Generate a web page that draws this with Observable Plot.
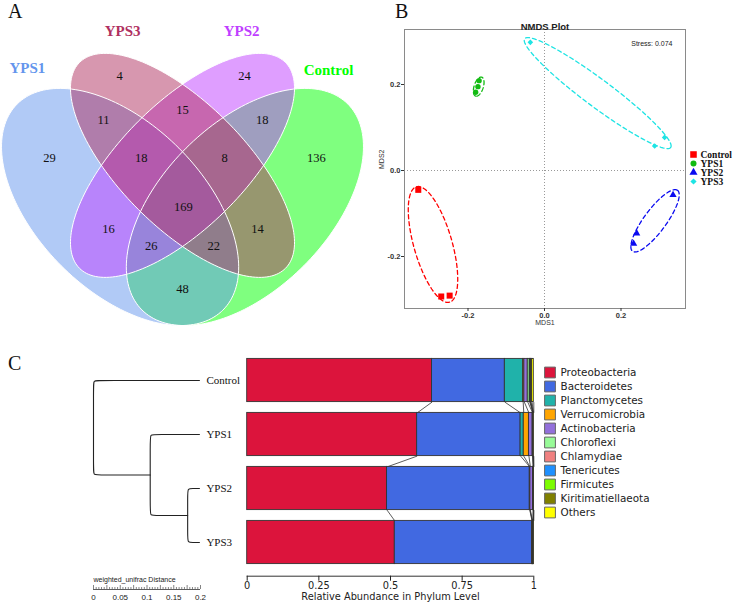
<!DOCTYPE html>
<html><head><meta charset="utf-8">
<script src="https://cdn.jsdelivr.net/npm/d3@7"></script>
<script src="https://cdn.jsdelivr.net/npm/@observablehq/plot@0.6"></script>
<style>
body{margin:0;background:#fff;width:733px;height:605px;position:relative;overflow:hidden;}
.letter{position:absolute;font-family:"Liberation Serif","Times New Roman",serif;font-size:20px;line-height:20px;color:#111;}
svg{overflow:visible;}
</style></head><body>
<div class="letter" style="left:8px;top:1px">A</div>
<div class="letter" style="left:395px;top:1px">B</div>
<div class="letter" style="left:8px;top:353px">C</div>
<script>
// ================= DATA =================
// ---- Panel A: Venn ----
const vennSets   = ["Control", "YPS1", "YPS2", "YPS3"];          // draw order
const vennColors = ["#00FF00", "#6495ED", "#BF3EFF", "#B03060"];
const vennCx  = [0.65, 0.35, 0.50, 0.50];
const vennCy  = [0.47, 0.47, 0.57, 0.57];
const vennA   = [0.35, 0.35, 0.35, 0.35];
const vennB   = [0.20, 0.20, 0.15, 0.15];
const vennRot = [45, -45, 45, -45];
const vennCounts = [4, 24, 11, 15, 18, 29, 18, 8, 136, 169, 16, 14, 26, 22, 48];
const vennCountU = [0.349, 0.649, 0.310, 0.500, 0.692, 0.180, 0.401, 0.601, 0.822, 0.502, 0.322, 0.680, 0.425, 0.575, 0.500];
const vennCountV = [0.784, 0.784, 0.680, 0.702, 0.680, 0.587, 0.587, 0.587, 0.587, 0.471, 0.418, 0.418, 0.377, 0.377, 0.274];
const vennLabels = ["YPS1", "YPS3", "YPS2", "Control"];
const vennLabelU = [0.127, 0.356, 0.642, 0.851];
const vennLabelV = [0.803, 0.892, 0.892, 0.800];

// ---- Panel B: NMDS ----
const nmdsGroups = ["Control", "YPS1", "YPS2", "YPS3"];
const nmdsColors = ["#FF0000", "#11BB11", "#0A0AF0", "#1EE4E4"];
const nmdsSymbols = ["square", "circle", "triangle", "diamond2"];
const nmdsSizes = [3.4, 2.7, 2.7, 2.5];
const nmdsGroup = ["Control","Control","Control","YPS1","YPS1","YPS1","YPS2","YPS2","YPS2","YPS3","YPS3","YPS3"];
const nmdsX = [-0.330, -0.270, -0.248, -0.171, -0.174, -0.180, 0.336, 0.241, 0.233, -0.037, 0.314, 0.288];
const nmdsY = [-0.045, -0.293, -0.291, 0.209, 0.195, 0.182, -0.057, -0.146, -0.170, 0.298, 0.077, 0.057];
// group ellipses: centre (MDS1, MDS2), semi-axes (MDS1 units), tilt (deg, clockwise on screen)
const ellCx = [-0.2915, -0.172, 0.289, 0.139];
const ellCy = [-0.172, 0.195, -0.117, 0.180];
const ellA  = [0.157, 0.026, 0.099, 0.238];
const ellB  = [0.050, 0.012, 0.029, 0.036];
const ellTilt = [74, 108, -53.6, 36.7];
const nmdsTicks = [-0.2, 0, 0.2];
const stressText = "Stress: 0.074";

// ---- Panel C: phylum composition ----
const samples = ["Control", "YPS1", "YPS2", "YPS3"];
const phyla = ["Proteobacteria","Bacteroidetes","Planctomycetes","Verrucomicrobia","Actinobacteria",
               "Chloroflexi","Chlamydiae","Tenericutes","Firmicutes","Kiritimatiellaeota","Others"];
const phylaColors = ["#DC143C","#4169E1","#20B2AA","#FFA500","#9370DB",
                     "#98FB98","#F08080","#1E90FF","#7CFC00","#808000","#FFFF00"];
const abundControl = [0.645, 0.254, 0.064, 0.004, 0.012, 0.007, 0.002, 0.001, 0.001, 0.004, 0.006];
const abundYPS1    = [0.593, 0.361, 0.011, 0.018, 0.013, 0.001, 0.0005, 0.0005, 0.0005, 0.0005, 0.001];
const abundYPS2    = [0.488, 0.498, 0.001, 0.001, 0.010, 0.0004, 0.0003, 0.0003, 0.0002, 0.0003, 0.0005];
const abundYPS3    = [0.515, 0.4788, 0.001, 0.0005, 0.002, 0.0005, 0.0003, 0.0004, 0.0003, 0.0004, 0.0006];
const xTicksC = [0, 0.25, 0.5, 0.75, 1];
const xTickLabelsC = ["0", "0.25", "0.5", "0.75", "1"];
// dendrogram (weighted UniFrac): merges [childA, childB, height]
const treeMerges = [["YPS2", "YPS3", 0.022], ["YPS1", "n1", 0.092], ["Control", "n2", 0.198]];
const scaleTicks = [0, 0.05, 0.1, 0.15, 0.2];
const scaleTickLabels = ["0", "0.05", "0.1", "0.15", "0.2"];

// ================= HELPERS =================
function place(el, left, top) {
  const d = document.createElement("div");
  d.style.cssText = `position:absolute;left:${left}px;top:${top}px;`;
  d.appendChild(el);
  document.body.appendChild(d);
}
const serif = "'Liberation Serif','Times New Roman',serif";
const sans = "'Liberation Sans',Arial,sans-serif";
const dejavu = "'DejaVu Sans',Verdana,sans-serif";

// ================= PANEL A =================
{
  const pts = vennSets.flatMap((s, i) => d3.range(0, 360, 2).map(deg => {
    const t = deg * Math.PI / 180, r = vennRot[i] * Math.PI / 180;
    return {set: s,
      x: vennCx[i] + vennA[i] * Math.cos(r) * Math.cos(t) - vennB[i] * Math.sin(r) * Math.sin(t),
      y: vennCy[i] + vennA[i] * Math.sin(r) * Math.cos(t) + vennB[i] * Math.cos(r) * Math.sin(t)};
  }));
  const marks = [];
  vennSets.forEach((s, i) => marks.push(Plot.line(pts.filter(d => d.set === s),
    {x: "x", y: "y", curve: "linear-closed", fill: vennColors[i], fillOpacity: 0.5, stroke: "none"})));
  marks.push(Plot.line(pts, {x: "x", y: "y", z: "set", curve: "linear-closed", fill: "none", stroke: "white", strokeWidth: 1}));
  marks.push(Plot.text(vennCounts, {x: (d, i) => vennCountU[i], y: (d, i) => vennCountV[i], text: d => String(d),
    fontFamily: serif, fontSize: 12.5, fill: "#111"}));
  marks.push(Plot.text(vennLabels, {x: (d, i) => vennLabelU[i], y: (d, i) => vennLabelV[i], text: d => d,
    fill: d => vennColors[vennSets.indexOf(d)], fontFamily: serif, fontSize: 15, fontWeight: "bold"}));
  const p = Plot.plot({
    width: 370, height: 330, margin: 0,
    x: {domain: [26 / 416, 396 / 416], range: [0, 370], axis: null},
    y: {domain: [402 / 416, 72 / 416], range: [0, 330], axis: null},
    style: {background: "transparent", overflow: "visible"},
    marks
  });
  place(p, 0, 0);
}

// ================= PANEL B =================
{
  const pxX = 382.5, pxY = 430; // pixels per MDS unit (from the plot's domain/range below)
  const pts = nmdsX.map((x, i) => ({group: nmdsGroup[i], x, y: nmdsY[i]}));
  const ell = nmdsGroups.flatMap((g, i) => {
    const phi = ellTilt[i] * Math.PI / 180, A = ellA[i] * pxX, B = ellB[i] * pxX;
    return d3.range(0, 360, 3).map(deg => {
      const t = deg * Math.PI / 180;
      const ox = A * Math.cos(t) * Math.cos(phi) - B * Math.sin(t) * Math.sin(phi);
      const oy = A * Math.cos(t) * Math.sin(phi) + B * Math.sin(t) * Math.cos(phi);
      return {group: g, x: ellCx[i] + ox / pxX, y: ellCy[i] - oy / pxY};
    });
  });
  const fmt = d => d.toFixed(1);
  const marks = [
    Plot.ruleX([0], {stroke: "#999", strokeDasharray: "1,2", strokeWidth: 1}),
    Plot.ruleY([0], {stroke: "#999", strokeDasharray: "1,2", strokeWidth: 1}),
    Plot.line(ell, {x: "x", y: "y", z: "group", stroke: "group", curve: "linear-closed", strokeDasharray: "4,3", strokeWidth: 1.3})
  ];
  nmdsGroups.forEach((g, i) => marks.push(Plot.dot(pts.filter(d => d.group === g),
    {x: "x", y: "y", symbol: () => nmdsSymbols[i], fill: nmdsColors[i], stroke: "none", r: nmdsSizes[i]})));
  marks.push(
    Plot.frame({stroke: "#8a8a8a", strokeWidth: 1}),
    Plot.axisX({ticks: nmdsTicks, tickFormat: fmt, tickSize: 3, tickPadding: 1, fontSize: 7.5, fontWeight: "bold", fontFamily: sans, color: "#333", label: null}),
    Plot.axisY({ticks: nmdsTicks, tickFormat: fmt, tickSize: 3, tickPadding: 1, fontSize: 7.5, fontWeight: "bold", fontFamily: sans, color: "#333", label: null}),
    Plot.text(["MDS1"], {frameAnchor: "bottom", dy: 16, fontSize: 7, fontFamily: sans, fill: "#333"}),
    Plot.text(["MDS2"], {frameAnchor: "left", dx: -22.5, rotate: -90, fontSize: 7, fontFamily: sans, fill: "#333"}),
    Plot.text(["NMDS Plot"], {frameAnchor: "top", dy: -6.5, fontSize: 9.5, fontWeight: "bold", fontFamily: sans, fill: "#222"}),
    Plot.text([stressText], {frameAnchor: "top-right", textAnchor: "end", dx: -13, dy: 11.7, fontSize: 7, fontFamily: sans, fill: "#222"})
  );
  const p = Plot.plot({
    width: 363, height: 330, marginLeft: 34, marginRight: 48, marginTop: 29, marginBottom: 22,
    x: {domain: [(404 - 544) / pxX, (685 - 544) / pxX]},
    y: {domain: [(170 - 308) / pxY, (170 - 29) / pxY]},
    color: {domain: nmdsGroups, range: nmdsColors},
    style: {background: "transparent", overflow: "visible"},
    marks
  });
  place(p, 370, 0);

  // legend
  const lg = Plot.plot({
    width: 48, height: 70, margin: 0,
    x: {domain: [0, 48], range: [0, 48], axis: null},
    y: {type: "point", domain: nmdsGroups, range: [12.5, 51.5], axis: null},
    style: {background: "transparent", overflow: "visible"},
    marks: [
      ...nmdsGroups.map((g, i) => Plot.dot([g], {x: () => 8, y: d => d, symbol: () => nmdsSymbols[i], fill: nmdsColors[i], r: nmdsSizes[i] + 0.3})),
      Plot.text(nmdsGroups, {x: () => 15, y: d => d, text: d => d, textAnchor: "start", fontFamily: serif, fontWeight: "bold", fontSize: 9.5, fill: "#111"})
    ]
  });
  place(lg, 685, 135);
}

// ================= PANEL C =================
const abund = [abundControl, abundYPS1, abundYPS2, abundYPS3];
const idxLo = -50 / 54;          // y index at panel top (global y 330)
const idxAxis = (575.7 - 380) / 54; // index where the x axis sits
{
  const rows = [];
  const cums = abund.map((vals, i) => {
    let c = 0; const out = [];
    vals.forEach((v, j) => { rows.push({sample: samples[i], idx: i, phylum: phyla[j], x1: c, x2: c + v}); c += v; out.push(c); });
    return out;
  });
  const links = [];
  for (let i = 0; i < samples.length - 1; i++)
    phyla.forEach((p, j) => links.push({x1: cums[i][j], y1: i + 0.4, x2: cums[i + 1][j], y2: i + 1 - 0.4}));
  const p = Plot.plot({
    width: 310, height: 275, marginLeft: 16.7, marginRight: 6.7, marginTop: 0, marginBottom: 275 - 245.7,
    x: {domain: [0, 1]},
    y: {domain: [idxLo, idxAxis], range: [0, 245.7], axis: null},
    color: {domain: phyla, range: phylaColors},
    style: {background: "transparent", overflow: "visible"},
    marks: [
      Plot.link(links, {x1: "x1", y1: "y1", x2: "x2", y2: "y2", stroke: "#333", strokeWidth: 0.8}),
      Plot.rect(rows, {x1: "x1", x2: "x2", y1: d => d.idx - 0.4, y2: d => d.idx + 0.4, fill: "phylum", stroke: "#333", strokeWidth: 0.9}),
      Plot.ruleY([idxAxis], {x1: 0, x2: 1, stroke: "#333", strokeWidth: 1}),
      Plot.axisX({ticks: xTicksC, tickFormat: d => xTickLabelsC[xTicksC.indexOf(d)], tickSize: 5, tickPadding: 0.5, fontSize: 9.8, fontFamily: dejavu, color: "#222", label: null}),
      Plot.text(["Relative Abundance in Phylum Level"], {frameAnchor: "bottom", dy: 23.3, fontSize: 9.8, fontFamily: dejavu, fill: "#222"})
    ]
  });
  place(p, 230, 330);

  const lg = Plot.plot({
    width: 198, height: 210, margin: 0,
    x: {domain: [0, 198], range: [0, 198], axis: null},
    y: {type: "point", domain: phyla, range: [33.3, 190], axis: null},
    color: {domain: phyla, range: phylaColors},
    style: {background: "transparent", overflow: "visible"},
    marks: [
      Plot.dot(phyla, {x: () => 14.5, y: d => d, symbol: "square", r: 6.1, fill: d => d, stroke: "#666", strokeWidth: 1}),
      Plot.text(phyla, {x: () => 25, y: d => d, text: d => d, textAnchor: "start", fontSize: 10.4, fontFamily: dejavu, fill: "#222"})
    ]
  });
  place(lg, 535, 330);
}
{
  // dendrogram with rounded elbows
  const H = treeMerges[treeMerges.length - 1][2];
  const rx = 5 / 535, ry = 5 / 54;  // corner rounding (5 px)
  const node = {};
  samples.forEach((s, i) => node[s] = {y: i, h: 0});
  const paths = [];
  treeMerges.forEach(([a, b, h], k) => {
    const A = node[a], B = node[b], xd = H - h, id = "m" + k;
    [[H - A.h, A.y], [xd + rx, A.y], [xd, A.y], [xd, A.y + ry], [xd, B.y - ry], [xd, B.y], [xd + rx, B.y], [H - B.h, B.y]]
      .forEach(([x, y]) => paths.push({id, x, y}));
    node["n" + (k + 1)] = {y: (A.y + B.y) / 2, h};
  });
  const p = Plot.plot({
    width: 245, height: 275, margin: 0,
    x: {domain: [0, 0.2], range: [93, 200], axis: null},
    y: {domain: [idxLo, idxLo + 275 / 54], range: [0, 275], axis: null},
    style: {background: "transparent", overflow: "visible"},
    marks: [
      Plot.line(paths, {x: "x", y: "y", z: "id", curve: "basis", stroke: "#222", strokeWidth: 1.1}),
      Plot.text(samples, {x: () => H, y: (d, i) => i, text: d => d, dx: 7, textAnchor: "start", fontFamily: serif, fontSize: 11, fill: "#111"})
    ]
  });
  place(p, 0, 330);

  const minor = d3.range(0, 0.2001, 0.005);
  const sb = Plot.plot({
    width: 245, height: 33, margin: 0,
    x: {domain: [0, 0.2], range: [93, 200], axis: null},
    y: {domain: [0, 33], range: [0, 33], axis: null},
    style: {background: "transparent", overflow: "visible"},
    marks: [
      Plot.text(["weighted_unifrac Distance"], {x: () => 0, y: () => 7.3, textAnchor: "start", fontSize: 7, fontFamily: sans, fill: "#222"}),
      Plot.ruleY([17], {x1: 0, x2: 0.2, stroke: "#333", strokeWidth: 0.8}),
      Plot.ruleX(minor, {x: d => d, y1: 17, y2: (d, i) => i % 5 === 0 ? 13 : 15, stroke: "#333", strokeWidth: 0.6}),
      Plot.text(scaleTicks, {x: d => d, y: () => 25.3, text: (d, i) => scaleTickLabels[i], fontSize: 8, fontFamily: sans, fill: "#222"})
    ]
  });
  place(sb, 0, 572);
}
</script>
</body></html>
